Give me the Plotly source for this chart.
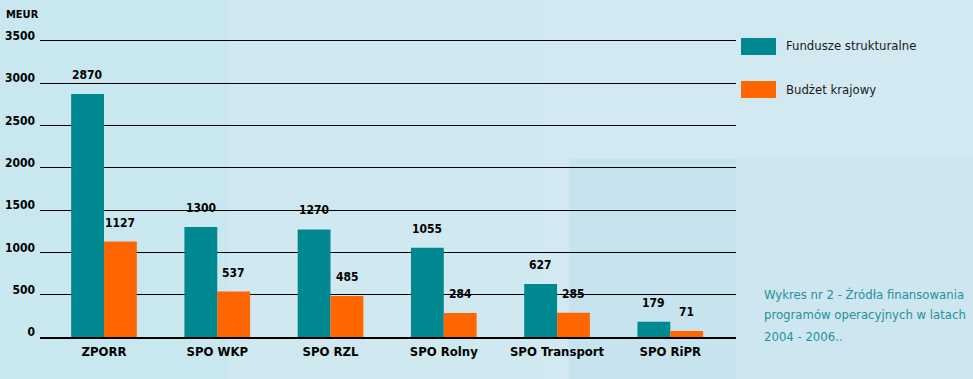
import plotly.graph_objects as go

categories = ["ZPORR", "SPO WKP", "SPO RZL", "SPO Rolny", "SPO Transport", "SPO RiPR"]
fundusze = [2870, 1300, 1270, 1055, 627, 179]
budzet = [1127, 537, 485, 284, 285, 71]
series_names = ["Fundusze strukturalne", "Budżet krajowy"]
caption_lines = ["Wykres nr 2 - Źródła finansowania", "programów operacyjnych w latach", "2004 - 2006.."]
y_ticks = [0, 500, 1000, 1500, 2000, 2500, 3000, 3500]

TEAL = "#008891"
ORANGE = "#ff6600"
NUM_FONT = "DejaVu Sans Condensed, DejaVu Sans, sans-serif"
NARROW = "DejaVu Sans Condensed, DejaVu Sans, sans-serif"

fig = go.Figure()
for name, vals, col in [(series_names[0], fundusze, TEAL), (series_names[1], budzet, ORANGE)]:
    fig.add_trace(go.Bar(
        x=categories, y=vals, name=name, marker=dict(color=col, line=dict(width=0)),
        showlegend=False, hoverinfo="skip",
    ))

# value labels above bars
annotations = []
for vals, shift in [(fundusze, -16.5), (budzet, 16.5)]:
    for c, v in zip(categories, vals):
        annotations.append(dict(x=c, y=v, text=str(v), xshift=shift, yshift=10, yanchor="bottom",
                                showarrow=False,
                                font=dict(family=NUM_FONT, size=12, color="black", weight="bold")))

# background panels (paper coordinates)
bg = [
    (-0.06, 0.27, -0.15, 1.15, "#c4e6ee", 0.6),
    (0.72, 1.35, -0.15, 1.15, "#d6e9f1", 0.6),
    (0.76, 1.0, -0.15, 0.60, "#bfe1ec", 0.6),
    (1.0, 1.35, -0.15, 0.60, "#c9e4ee", 0.5),
]
shapes = []
for x0, x1, y0, y1, c, op in bg:
    shapes.append(dict(type="rect", xref="paper", yref="paper", x0=x0, x1=x1, y0=y0, y1=y1,
                       fillcolor=c, opacity=op, line=dict(width=0), layer="below"))
# legend swatches
shapes.append(dict(type="rect", xref="paper", yref="paper", x0=1.0072, x1=1.0575, y0=0.946, y1=1.003,
                   fillcolor=TEAL, line=dict(width=0)))
shapes.append(dict(type="rect", xref="paper", yref="paper", x0=1.0072, x1=1.0575, y0=0.802, y1=0.859,
                   fillcolor=ORANGE, line=dict(width=0)))

annotations += [
    dict(text="MEUR", xref="paper", yref="paper", x=-0.052, y=1.081, xanchor="left", yanchor="middle",
         showarrow=False, font=dict(family=NUM_FONT, size=11, color="black", weight="bold")),
    dict(text=series_names[0], xref="paper", yref="paper", x=1.069, y=0.977, xanchor="left", yanchor="middle",
         showarrow=False, font=dict(family=NARROW, size=13, color="#1a1a1a")),
    dict(text=series_names[1], xref="paper", yref="paper", x=1.069, y=0.829, xanchor="left", yanchor="middle",
         showarrow=False, font=dict(family=NARROW, size=13, color="#1a1a1a")),
]
for line, yy in zip(caption_lines, [0.144, 0.074, 0.003]):
    annotations.append(dict(text=line, xref="paper", yref="paper", x=1.038, y=yy, xanchor="left",
                            yanchor="middle", showarrow=False,
                            font=dict(family=NARROW, size=13, color="#23929e")))

fig.update_layout(
    width=973, height=379,
    margin=dict(l=40, r=237, t=39, b=42),
    paper_bgcolor="#d0e8ef", plot_bgcolor="rgba(0,0,0,0)",
    barmode="group", bargap=0.42, bargroupgap=0,
    shapes=shapes, annotations=annotations,
    xaxis=dict(range=[-0.565, 5.58], showgrid=False, showline=True, linecolor="black", linewidth=1.5,
               ticks="", automargin=False,
               tickfont=dict(family=NARROW, size=13, color="black", weight="bold"),
               ticklabelstandoff=2),
    yaxis=dict(range=[0, 3520], tickvals=y_ticks, showgrid=True, gridcolor="black", gridwidth=1.2,
               zeroline=False, showline=False, ticks="", automargin=False,
               tickfont=dict(family=NUM_FONT, size=12, color="black", weight="bold"),
               ticklabelshift=-5, ticklabelstandoff=4),
    font=dict(family=NUM_FONT),
)

fig.write_html("out.html", config={"displayModeBar": False},
               post_script="document.body.style.margin='0';")
